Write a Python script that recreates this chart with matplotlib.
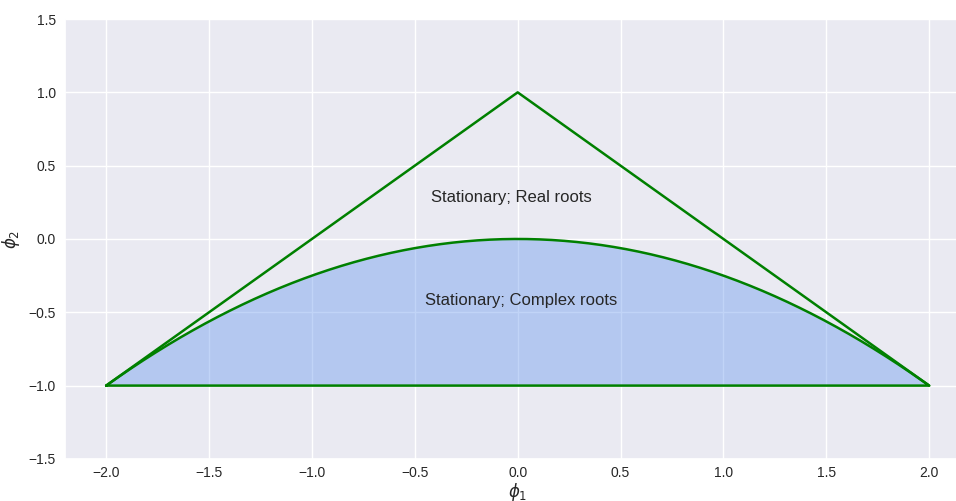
import numpy as np
import matplotlib
matplotlib.use("Agg")
import matplotlib.pyplot as plt
import seaborn as sns

sns.set_theme(style="darkgrid")
plt.rcParams["font.family"] = ["Liberation Sans", "DejaVu Sans"]

# Stationarity triangle of an AR(2) process: vertices in (phi1, phi2)
tri_phi1 = [-2.0, 0.0, 2.0, -2.0]
tri_phi2 = [-1.0, 1.0, -1.0, -1.0]

# Boundary between real and complex roots: phi1^2 + 4*phi2 = 0
phi1 = np.linspace(-2.0, 2.0, 400)
phi2_boundary = -phi1 ** 2 / 4.0
phi2_floor = -1.0

labels = ["Stationary; Real roots", "Stationary; Complex roots"]
label_pos = [(-0.42, 0.25), (-0.45, -0.45)]

fig = plt.figure(figsize=(9.56, 5.01), dpi=100)
ax = fig.add_axes([0.068, 0.084, 0.947, 0.878])

ax.plot(tri_phi1, tri_phi2, color="green", lw=1.8)
ax.plot(phi1, phi2_boundary, color="green", lw=1.8)
ax.fill_between(phi1, phi2_boundary, phi2_floor, color="cornflowerblue", alpha=0.4, lw=0)

for (x, y), s in zip(label_pos, labels):
    ax.text(x, y, s, fontsize=12, color="#262626")

ax.set_xlim(-2.2, 2.2)
ax.set_ylim(-1.5, 1.5)
ax.set_xticks(np.arange(-2.0, 2.01, 0.5))
ax.set_yticks(np.arange(-1.5, 1.51, 0.5))
ax.tick_params(labelsize=10, length=0, pad=6.5)
ax.tick_params(axis="x", pad=5)
ax.set_xlabel(r"$\phi_1$", fontsize=12)
ax.set_ylabel(r"$\phi_2$", fontsize=12)
ax.xaxis.set_label_coords(0.5, -0.05)
ax.yaxis.set_label_coords(-0.047, 0.5)

fig.savefig("out.png", dpi=100)
